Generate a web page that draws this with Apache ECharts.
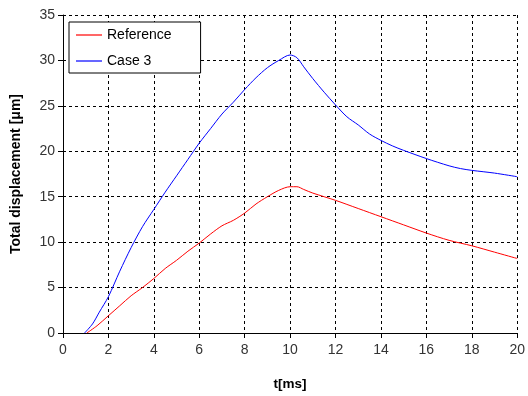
<!DOCTYPE html>
<html>
<head>
<meta charset="utf-8">
<script src="https://cdn.jsdelivr.net/npm/echarts@6/dist/echarts.min.js"></script>
<style>html,body{margin:0;padding:0;background:#fff}#c{width:528px;height:396px}</style>
</head>
<body>
<div id="c"></div>
<script>
const refT = [1.05,1.5,2,2.5,3,3.5,4,4.5,5,5.5,6,6.5,7,7.5,8,8.5,9,9.5,10,10.3,10.6,11,12,13,14,15,16,17,18,19,20];
const refY = [0,0.8,1.9,3.0,4.1,5.0,6.0,7.1,8.0,9.0,9.9,10.9,11.8,12.4,13.2,14.2,15.0,15.7,16.1,16.1,15.8,15.4,14.6,13.7,12.8,11.9,11.0,10.2,9.6,8.9,8.2];
const caseT = [0.95,1.3,1.6,2,2.5,3,3.5,4,4.5,5,5.5,6,6.5,7,7.5,8,8.5,9,9.5,10,10.3,10.6,11,11.5,12,12.5,13,13.5,14,14.5,15,16,17,17.5,18,19,20];
const caseY = [0,1.0,2.3,4.0,6.8,9.4,11.7,13.6,15.5,17.3,19.1,20.9,22.5,24.1,25.4,26.8,28.1,29.2,30.0,30.6,30.3,29.3,28.0,26.5,25.1,23.8,22.9,21.9,21.2,20.6,20.1,19.2,18.4,18.1,17.9,17.6,17.2];
const seriesNames = ['Reference','Case 3'];
const xAxisName = 't[ms]';
const yAxisName = 'Total displacement [\u03bcm]';

const zip = (a,b) => a.map((v,i)=>[v,b[i]]);
const chart = echarts.init(document.getElementById('c'));
const gridLine = {show:true, lineStyle:{color:'#000', type:[3,3], width:1}};
chart.setOption({
  animation:false,
  textStyle:{fontFamily:'Liberation Sans, Arial, sans-serif'},
  grid:{left:63,right:9,top:15,bottom:63},
  legend:{
    data:seriesNames, orient:'vertical', left:69, top:22,
    backgroundColor:'#fff',
    borderColor:'#000', borderWidth:1, padding:[5,29,4,7], itemGap:10,
    icon:'rect', itemWidth:26, itemHeight:1.2,
    textStyle:{fontSize:14, color:'#000', lineHeight:16}
  },
  xAxis:{
    type:'value', min:0, max:20, interval:2,
    name:xAxisName, nameLocation:'middle', nameGap:44,
    nameTextStyle:{fontWeight:'bold', fontSize:13.5, color:'#000'},
    axisLine:{show:true, onZero:false, lineStyle:{color:'#000'}},
    axisTick:{show:true, inside:false, length:5, lineStyle:{color:'#000'}},
    axisLabel:{fontSize:14, color:'#333', margin:10},
    splitLine:gridLine
  },
  yAxis:{
    type:'value', min:0, max:35, interval:5,
    name:yAxisName, nameLocation:'middle', nameGap:40,
    nameTextStyle:{fontWeight:'bold', fontSize:14, color:'#000'},
    axisLine:{show:true, lineStyle:{color:'#000'}},
    axisTick:{show:true, length:5, lineStyle:{color:'#000'}},
    axisLabel:{fontSize:14, color:'#333', margin:8},
    splitLine:gridLine
  },
  series:[
    {name:seriesNames[0], type:'line', data:zip(refT,refY), symbol:'none', smooth:0.3,
     lineStyle:{color:'#ff0000', width:1}, itemStyle:{color:'#ff0000'}},
    {name:seriesNames[1], type:'line', data:zip(caseT,caseY), symbol:'none', smooth:0.3,
     lineStyle:{color:'#0000ff', width:1}, itemStyle:{color:'#0000ff'}}
  ]
});
</script>
</body>
</html>
